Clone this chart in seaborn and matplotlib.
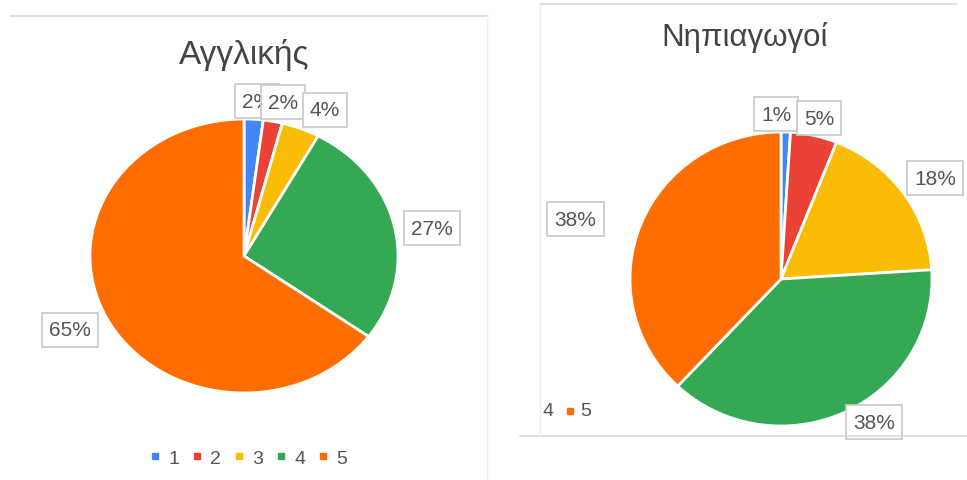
import matplotlib
matplotlib.use("Agg")
import matplotlib.pyplot as plt
from matplotlib.lines import Line2D
import seaborn as sns

# ---- data ----
categories = ["1", "2", "3", "4", "5"]
english_title = "Αγγλικής"
english_values = [2, 2, 4, 27, 65]
kinder_title = "Νηπιαγωγοί"
kinder_values = [1, 5, 18, 38, 38]
colors_hex = ["#4285F4", "#EA4335", "#FBBC04", "#34A853", "#FF6D01"]

sns.set_theme(style="white")
plt.rcParams["font.family"] = ["Liberation Sans", "DejaVu Sans"]
palette = sns.color_palette(colors_hex)

W, H = 967, 481
fig = plt.figure(figsize=(W / 100, H / 100), dpi=100)
fig.patch.set_facecolor("white")


def fx(px):
    return px / W


def fy(py):
    return 1 - py / H


def hline(x0, x1, y, color="#d9d9d9", lw=1.2):
    fig.add_artist(Line2D([fx(x0), fx(x1)], [fy(y), fy(y)], transform=fig.transFigure,
                          color=color, lw=lw))


def vline(x, y0, y1, color="#efefef", lw=1.0):
    fig.add_artist(Line2D([fx(x), fx(x)], [fy(y0), fy(y1)], transform=fig.transFigure,
                          color=color, lw=lw))


TXT = "#555555"


def draw_pie(cx, cy, rx, ry, values, label_pos):
    ax = fig.add_axes([fx(cx - rx), fy(cy + ry), 2 * rx / W, 2 * ry / H])
    wedges, _ = ax.pie(values, colors=palette, startangle=90, counterclock=False,
                       wedgeprops=dict(edgecolor="white", linewidth=2))
    ax.set_aspect("auto")
    ax.set_xlim(-1, 1)
    ax.set_ylim(-1, 1)
    ax.axis("off")
    total = sum(values)
    for i, (v, (lx, ly)) in enumerate(zip(values, label_pos)):
        ax.text(lx, ly, f"{round(100 * v / total)}%", ha="center", va="center",
                fontsize=15, color=TXT, clip_on=False, zorder=10 + i,
                bbox=dict(boxstyle="square,pad=0.35", facecolor="white",
                          edgecolor="#c8c8c8", linewidth=1.2))
    return ax


# ---- left panel ----
hline(10, 488, 17)
vline(487, 17, 481)
fig.text(fx(244), fy(64), english_title, ha="center", va="baseline", fontsize=24, color="#444444")
left_labels = [(0.084, 1.131), (0.253, 1.124), (0.526, 1.066), (1.221, 0.204), (-1.13, -0.54)]
draw_pie(244, 257, 154, 137, english_values, left_labels)

handles = [Line2D([], [], marker="s", ls="", markersize=5, color=c) for c in palette]
fig.legend(handles, categories, loc="center", bbox_to_anchor=(fx(248), fy(459)), ncol=5,
           frameon=False, handlelength=0.6, handletextpad=0.4, columnspacing=0.6,
           fontsize=14, labelcolor=TXT)

# ---- right panel ----
hline(540, 957, 5)
hline(520, 967, 437)
vline(540, 5, 437)
fig.text(fx(745), fy(46), kinder_title, ha="center", va="baseline", fontsize=22.5, color="#444444")
right_labels = [(-0.033, 1.122), (0.252, 1.095), (1.02, 0.687), (0.616, -0.973), (-1.36, 0.408)]
draw_pie(781, 280, 151, 147, kinder_values, right_labels)

# cropped legend fragment of right panel
fig.text(fx(548), fy(412), categories[3], ha="center", va="center", fontsize=14, color=TXT)
fig.add_artist(Line2D([fx(570)], [fy(412)], transform=fig.transFigure, marker="s", ls="",
                      markersize=5, color=palette[4]))
fig.text(fx(586), fy(412), categories[4], ha="center", va="center", fontsize=14, color=TXT)

fig.savefig("out.png", dpi=100, facecolor="white")
